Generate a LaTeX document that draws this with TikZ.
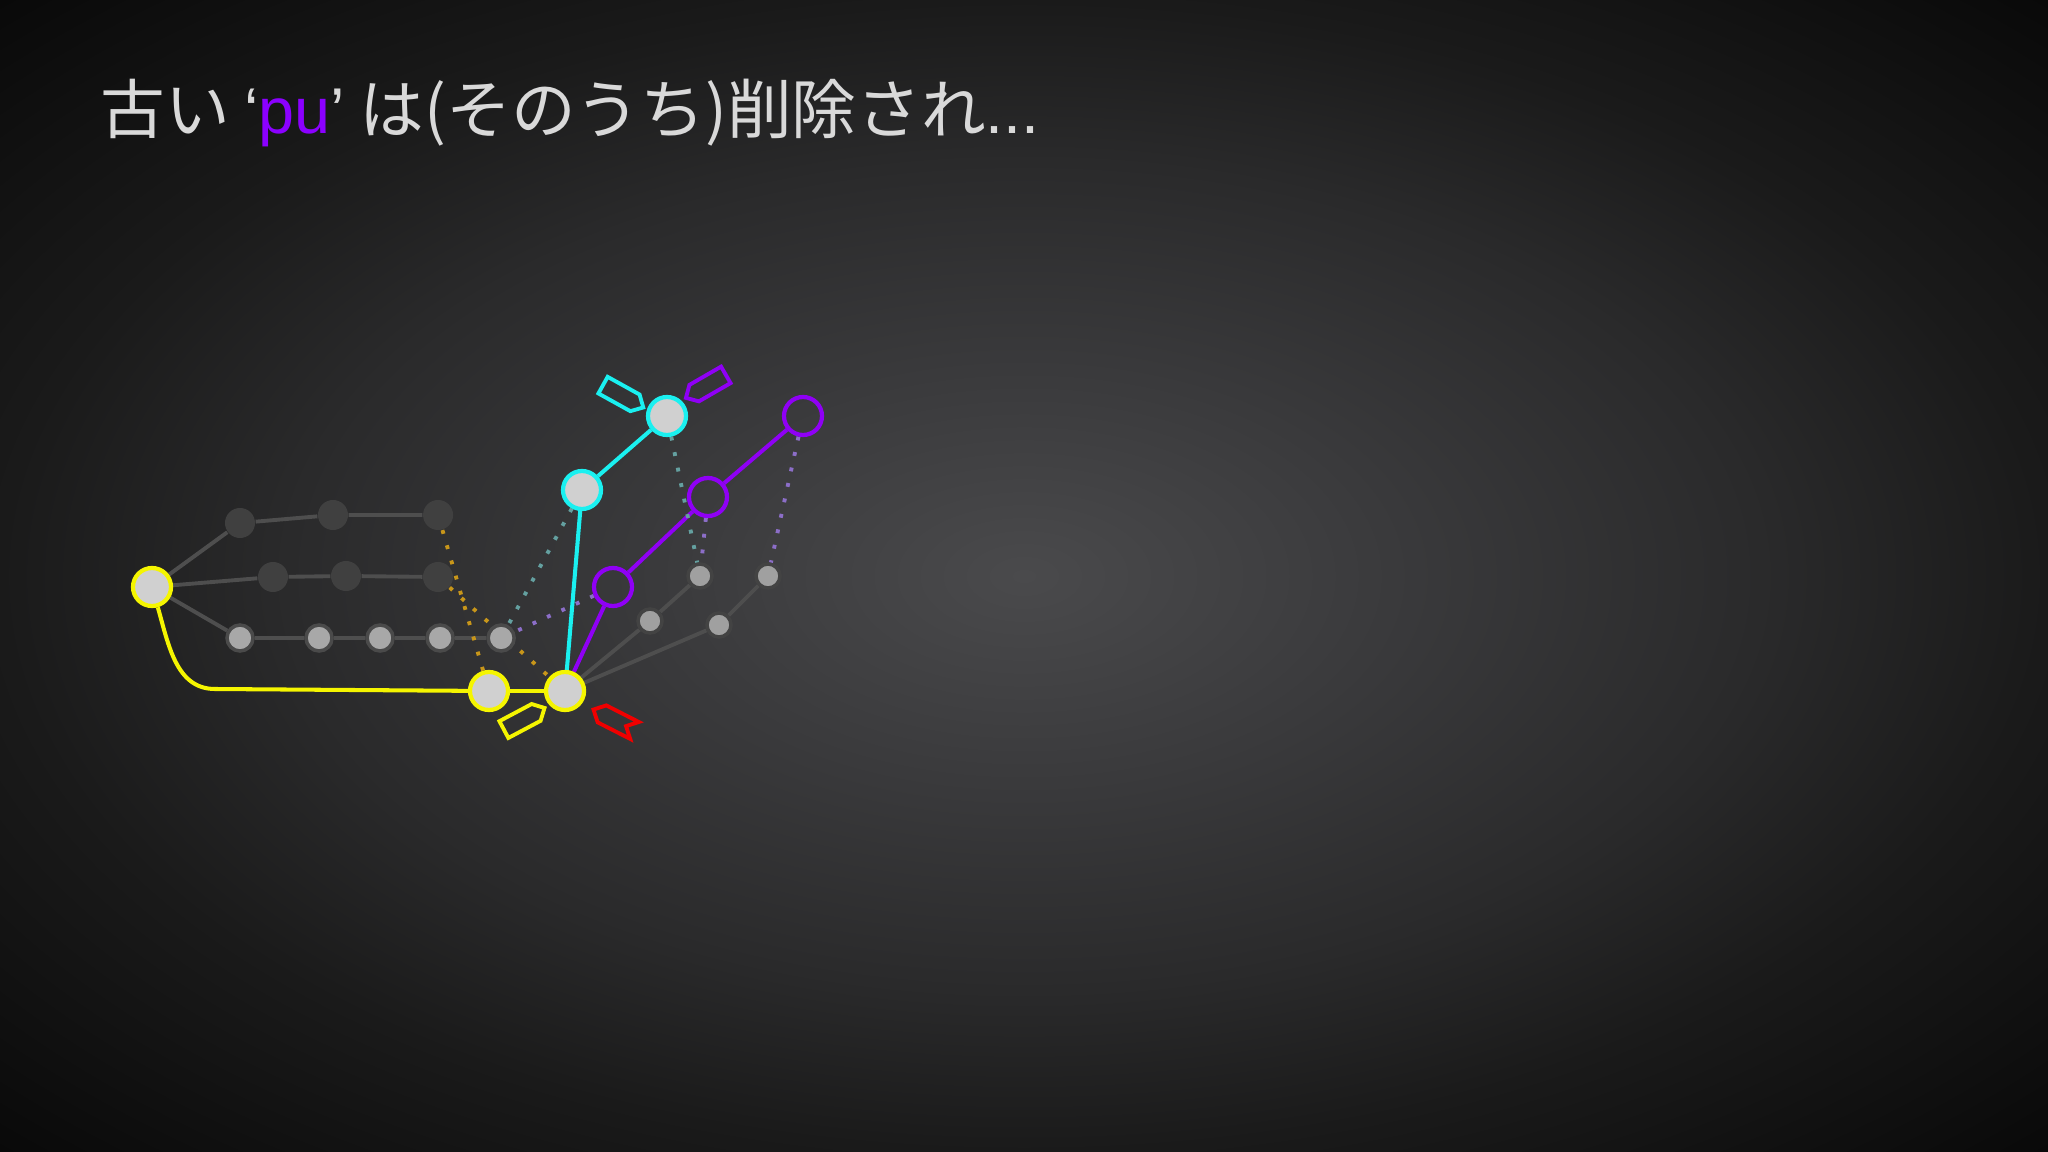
\documentclass[tikz,border=0pt]{standalone}
\usepackage{fontspec}
\newfontfamily\jpfont{Noto Sans CJK JP}
\newfontfamily\latinfont{Liberation Sans}
\usetikzlibrary{positioning, shapes.symbols}

\definecolor{bgcentre}{HTML}{4A4A4C}
\definecolor{bgmid}{HTML}{3A3A3C}
\definecolor{bgdark}{HTML}{2A2A2B}
\definecolor{bgedge}{HTML}{1A1A1A}
\definecolor{bgcorner}{HTML}{080808}
\definecolor{titlegrey}{HTML}{D9D9D9}
\definecolor{pupurple}{HTML}{8B00FF}
\definecolor{refyellow}{HTML}{F5F500}
\definecolor{refcyan}{HTML}{1AF0F0}
\definecolor{refpurple}{HTML}{8F00F5}
\definecolor{refred}{HTML}{F00000}
\definecolor{nodefill}{HTML}{D0D0D0}
\definecolor{darkfill}{HTML}{404040}
\definecolor{greyfill}{HTML}{A8A8A8}
\definecolor{greyring}{HTML}{4A4A4A}
\definecolor{edgegrey}{HTML}{4E4E4E}
\definecolor{dotorange}{HTML}{C8961A}
\definecolor{dotcyan}{HTML}{64A0A0}
\definecolor{dotpurple}{HTML}{8C6EC8}

\pgfdeclareradialshading{bgglow}{\pgfpoint{0bp}{0bp}}{color(0bp)=(bgcentre); color(9bp)=(bgmid); color(18bp)=(bgdark); color(25bp)=(bgedge); color(36bp)=(bgcorner); color(50bp)=(bgcorner)}

\pgfdeclarelayer{back}
\pgfdeclarelayer{edges}
\pgfsetlayers{back,edges,main}

\begin{document}
\begin{tikzpicture}
    [
        x=0.01cm, y=-0.01cm, on grid,
        yellow_node/.style={circle, draw=refyellow, fill=nodefill, line width=1.2pt, minimum size=3.8mm, inner sep=0pt},
        cyan_node/.style={circle, draw=refcyan, fill=nodefill, line width=1.2pt, minimum size=3.8mm, inner sep=0pt},
        purple_node/.style={circle, draw=refpurple, line width=1.2pt, minimum size=3.8mm, inner sep=0pt},
        dark_node/.style={circle, fill=darkfill, minimum size=3mm, inner sep=0pt},
        grey_node/.style={circle, draw=greyring, fill=greyfill, line width=1pt, minimum size=2.6mm, inner sep=0pt},
        small_node/.style={circle, draw=greyring!90!black, fill=greyfill!95!black, line width=1pt, minimum size=2.4mm, inner sep=0pt},
        grey_edge/.style={line width=1.1pt, color=edgegrey},
        ref_edge/.style={line width=1.15pt},
        dot_edge/.style={line width=1.1pt, dash pattern=on 1.1pt off 3.4pt},
        ref_tag/.style={signal, draw, line width=1.1pt, minimum width=4.6mm, minimum height=1.9mm, inner sep=0pt},
    ]
        % background
        \begin{pgfonlayer}{back}
            \shade[shading=bgglow] (0,0) rectangle (2048,1152);
        \end{pgfonlayer}

        \node[anchor=base west, inner sep=0pt, text=titlegrey] (title) at (100,134)
            {\jpfont\fontsize{18.4pt}{22pt}\selectfont 古い {\latinfont‘\textcolor{pupurple}{pu}’} は(そのうち)削除され{\latinfont...}} ;

        % commits
        \node[yellow_node] (root) at (152,587) {} ;
        \node[dark_node] (top1) at (240,523) {} ;
        \node[dark_node] (top2) at (333,515) {} ;
        \node[dark_node] (top3) [right=1.05cm of top2] {} ;
        \node[dark_node] (mid1) at (273,577) {} ;
        \node[dark_node] (mid2) at (346,576) {} ;
        \node[dark_node] (mid3) at (438,577) {} ;
        \node[grey_node] (bot1) at (240,638) {} ;
        \node[grey_node] (bot2) [right=0.79cm of bot1] {} ;
        \node[grey_node] (bot3) [right=0.61cm of bot2] {} ;
        \node[grey_node] (bot4) [right=0.6cm of bot3] {} ;
        \node[grey_node] (bot5) [right=0.61cm of bot4] {} ;
        \node[yellow_node] (pu2) at (489,691) {} ;
        \node[yellow_node] (pu3) [right=0.76cm of pu2] {} ;
        \node[cyan_node] (new1) at (582,490) {} ;
        \node[cyan_node] (new2) at (667,416) {} ;
        \node[purple_node] (old1) at (613,587) {} ;
        \node[purple_node] (old2) at (708,497) {} ;
        \node[purple_node] (old3) at (803,416) {} ;
        \node[small_node] (s1) at (650,621) {} ;
        \node[small_node] (s2) at (700,576) {} ;
        \node[small_node] (s3) at (719,625) {} ;
        \node[small_node] (s4) at (768,576) {} ;
        \coordinate (bend) at (215,689) ;

        % refs
        \node[ref_tag, draw=refcyan, signal to=east, rotate=-29] (tag_new) at (619,394) {} ;
        \node[ref_tag, draw=refpurple, signal to=west, rotate=30] (tag_old) at (710,384) {} ;
        \node[ref_tag, draw=refyellow, signal to=east, rotate=28] (tag_pu) at (520,721) {} ;
        \node[ref_tag, draw=refred, signal to=west, signal from=east, rotate=-27] (tag_head) at (614,720) {} ;

        \begin{pgfonlayer}{edges}
            \draw[grey_edge] (root) -- (top1) -- (top2) -- (top3) ;
            \draw[grey_edge] (root) -- (mid1) -- (mid2) -- (mid3) ;
            \draw[grey_edge] (root) -- (bot1) -- (bot2) -- (bot3) -- (bot4) -- (bot5) ;
            \draw[grey_edge] (pu3) -- (s1) -- (s2) ;
            \draw[grey_edge] (pu3) -- (s3) -- (s4) ;
            \draw[ref_edge, color=refyellow] (root) to[out=-74, in=180] (bend) -- (pu2) ;
            \draw[ref_edge, color=refyellow] (pu2) -- (pu3) ;
            \draw[ref_edge, color=refcyan] (pu3) -- (new1) ;
            \draw[ref_edge, color=refcyan] (new1) -- (new2) ;
            \draw[ref_edge, color=refpurple] (pu3) -- (old1) ;
            \draw[ref_edge, color=refpurple] (old1) -- (old2) ;
            \draw[ref_edge, color=refpurple] (old2) -- (old3) ;
            \draw[dot_edge, color=dotorange] (top3) -- (pu2) ;
            \draw[dot_edge, color=dotorange] (mid3) -- (pu3) ;
            \draw[dot_edge, color=dotcyan] (new1) -- (bot5) ;
            \draw[dot_edge, color=dotcyan] (new2) -- (s2) ;
            \draw[dot_edge, color=dotpurple] (old1) -- (bot5) ;
            \draw[dot_edge, color=dotpurple] (old2) -- (s2) ;
            \draw[dot_edge, color=dotpurple] (old3) -- (s4) ;
        \end{pgfonlayer}
    \end{tikzpicture}
\end{document}
